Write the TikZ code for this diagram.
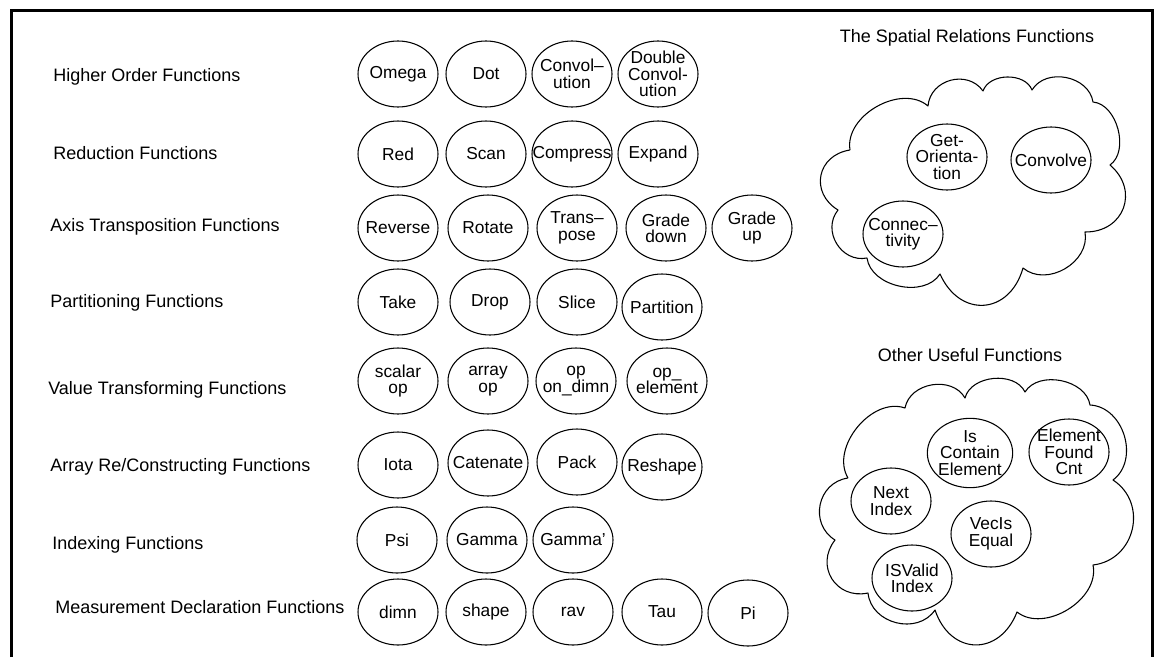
\documentclass[tikz,border=0pt]{standalone}
\usepackage{fontspec}
\setmainfont{Liberation Sans}
\usetikzlibrary{shapes.geometric}
\begin{document}
\begin{tikzpicture}[x=0.75pt,y=-0.75pt,
  fn/.style={ellipse, draw, line width=0.8pt, minimum width=60pt, minimum height=49.5pt, inner sep=0pt},
  ft/.style={font=\fontsize{13}{12.3}\selectfont, align=center, inner sep=0pt},
  rowlbl/.style={font=\fontsize{13.5}{16}\selectfont, inner sep=0pt, anchor=west},
  ttl/.style={font=\fontsize{13.5}{16}\selectfont, inner sep=0pt},
  cloudline/.style={line width=0.8pt, line join=round},
  puff/.style={bend left=70, looseness=#1},
  puff/.default=1.1]
\useasboundingbox (0,0) rectangle (1160,657);
% frame
\draw[line width=2.25pt] (11,657) -- (11,10) -- (1152,10) -- (1152,657);
% row labels
\node[rowlbl] (l1) at (53,77) {Higher Order Functions};
\node[rowlbl] (l2) at (53,153) {Reduction Functions};
\node[rowlbl] (l3) at (50,227) {Axis Transposition Functions};
\node[rowlbl] (l4) at (50,303) {Partitioning Functions};
\node[rowlbl] (l5) at (48,390) {Value Transforming Functions};
\node[rowlbl] (l6) at (50,467) {Array Re/Constructing Functions};
\node[rowlbl] (l7) at (52,545) {Indexing Functions};
\node[rowlbl] (l8) at (55,607) {Measurement Declaration Functions};
% row 1
\node[fn, label={[ft]center:Omega}] (omega) at (398,74) {};
\node[fn, label={[ft]center:Dot}] (dot) at (486,74) {};
\node[fn, label={[ft]center:{Convol--\\ution}}] (conv) at (572,74) {};
\node[fn, label={[ft]center:{Double\\Convol-\\ution}}] (dconv) at (658,74) {};
% row 2
\node[fn, label={[ft]center:Red}] (red) at (398,154) {};
\node[fn, label={[ft]center:Scan}] (scan) at (486,154) {};
\node[fn, label={[ft]center:Compress}] (compress) at (572,154) {};
\node[fn, label={[ft]center:Expand}] (expand) at (658,154) {};
% row 3
\node[fn, label={[ft]center:Reverse}] (reverse) at (398,228) {};
\node[fn, label={[ft]center:Rotate}] (rotate) at (488,228) {};
\node[fn, label={[ft]center:{Trans--\\pose}}] (transpose) at (577,228) {};
\node[fn, label={[ft]center:{Grade\\down}}] (gdown) at (666,228) {};
\node[fn, label={[ft]center:{Grade\\up}}] (gup) at (752,228) {};
% row 4
\node[fn, label={[ft]center:Take}] (take) at (398,302) {};
\node[fn, label={[ft]center:Drop}] (drop) at (490,302) {};
\node[fn, label={[ft]center:Slice}] (slice) at (577,302) {};
\node[fn, label={[ft]center:Partition}] (partition) at (662,307) {};
% row 5
\node[fn, label={[ft]center:{scalar\\op}}] (scalarop) at (398,381) {};
\node[fn, label={[ft]center:{array\\op}}] (arrayop) at (488,381) {};
\node[fn, label={[ft]center:{op\\on\_dimn}}] (opdimn) at (576,381) {};
\node[fn, label={[ft]center:{op\_\\element}}] (opelem) at (667,381) {};
% row 6
\node[fn, label={[ft]center:Iota}] (iota) at (398,465) {};
\node[fn, label={[ft]center:Catenate}] (catenate) at (488,463) {};
\node[fn, label={[ft]center:Pack}] (pack) at (577,462) {};
\node[fn, label={[ft]center:Reshape}] (reshape) at (662,467) {};
% row 7
\node[fn, label={[ft]center:Psi}] (psi) at (397,540) {};
\node[fn, label={[ft]center:Gamma}] (gamma) at (487,540) {};
\node[fn, label={[ft]center:{Gamma’}}] (gammap) at (573,540) {};
% row 8
\node[fn, label={[ft]center:dimn}] (dimn) at (398,612) {};
\node[fn, label={[ft]center:shape}] (shape) at (486,612) {};
\node[fn, label={[ft]center:rav}] (rav) at (573,612) {};
\node[fn, label={[ft]center:Tau}] (tau) at (662,612) {};
\node[fn, label={[ft]center:Pi}] (pi) at (748,613) {};
% spatial relations cloud
\node[ttl] (t1) at (967,38) {The Spatial Relations Functions};
\coordinate (a1) at (850,150);  \coordinate (b1) at (928,106);
\coordinate (c1) at (983,91);   \coordinate (d1) at (1032,90);
\coordinate (e1) at (1093,102); \coordinate (f1) at (1110,165);
\coordinate (g1) at (1085,232); \coordinate (h1) at (1023,268);
\coordinate (i1) at (940,274);  \coordinate (j1) at (867,258);
\coordinate (k1) at (838,210);
\draw[cloudline] (a1) to[puff=1.0] (b1) to[puff=1.2] (c1) to[puff=1.0] (d1)
  to[puff=1.1] (e1) to[puff=0.95] (f1) to[puff=1.4] (g1) to[puff=1.1] (h1)
  to[puff=1.5] (i1) to[puff=1.0] (j1) to[puff=1.2] (k1) to[puff=1.4] (a1);
\node[fn, label={[ft]center:{Get-\\Orienta-\\tion}}] (getor) at (947,157) {};
\node[fn, label={[ft]center:Convolve}] (convolve) at (1051,160) {};
\node[fn, label={[ft]center:{Connec--\\tivity}}] (connect) at (903,234) {};
% other useful cloud
\node[ttl] (t2) at (970,355) {Other Useful Functions};
\coordinate (a2) at (848,478);  \coordinate (b2) at (905,408);
\coordinate (c2) at (965,398);  \coordinate (d2) at (1025,392);
\coordinate (e2) at (1090,405); \coordinate (f2) at (1113,480);
\coordinate (g2) at (1093,565); \coordinate (h2) at (1017,612);
\coordinate (i2) at (935,610);  \coordinate (j2) at (868,593);
\coordinate (k2) at (835,540);
\draw[cloudline] (a2) to[puff=1.0] (b2) to[puff=1.1] (c2) to[puff=1.0] (d2)
  to[puff=1.0] (e2) to[puff=1.1] (f2) to[puff=1.25] (g2) to[puff=1.0] (h2)
  to[puff=1.5] (i2) to[puff=1.15] (j2) to[puff=1.35] (k2) to[puff=1.25] (a2);
\node[fn, minimum width=64pt, minimum height=52pt, label={[ft]center:{Is\\Contain\\Element}}] (iscont) at (970,453) {};
\node[fn, label={[ft]center:{Element\\Found\\Cnt}}] (efound) at (1069,452) {};
\node[fn, label={[ft]center:{Next\\Index}}] (nextidx) at (891,501) {};
\node[fn, label={[ft]center:{VecIs\\Equal}}] (vecis) at (991,534) {};
\node[fn, label={[ft]center:{ISValid\\Index}}] (isvalid) at (912,578) {};
\end{tikzpicture}
\end{document}
